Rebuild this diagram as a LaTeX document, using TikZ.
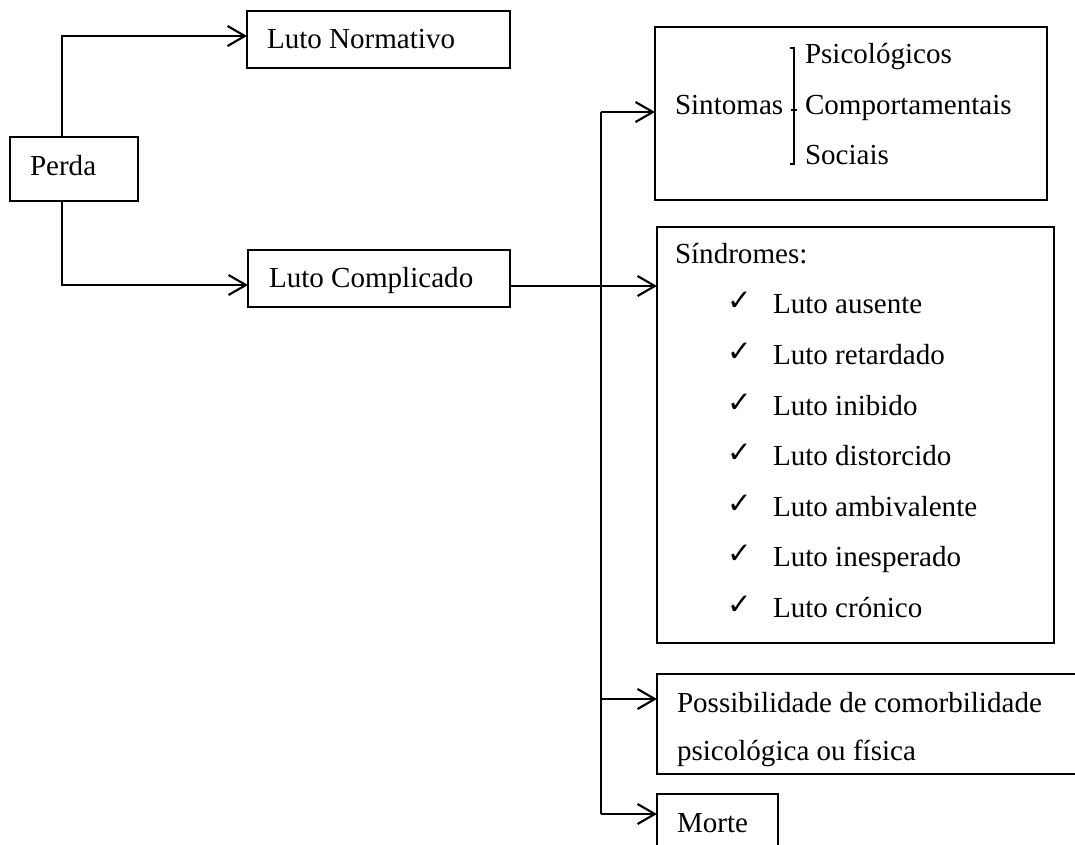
\documentclass[tikz,border=0pt]{standalone}
\usepackage{fontspec}
\setmainfont{Liberation Serif}
\newfontfamily\chkfont{DejaVu Sans}
\usetikzlibrary{arrows.meta}
\newlength\pu
\setlength\pu{0.75pt}
\tikzset{
  box/.style={draw, line width=1pt, rectangle, inner sep=0pt, outer sep=0pt},
  txt/.style={anchor=base west, inner sep=0pt, outer sep=0pt, font=\fontsize{21.8}{26}\selectfont},
  chk/.style={anchor=base west, inner sep=0pt, outer sep=0pt, font=\chkfont\fontsize{22}{26}\selectfont},
  trunk/.style={line width=1.6pt},
  conn/.style={line width=1.6pt, -{Straight Barb[length=13pt,width=15pt,line width=1.6pt]}}
}
\begin{document}
\begin{tikzpicture}[x=0.75pt, y=-0.75pt]
\useasboundingbox (0,0) rectangle (1075,844);
\clip (0,0) rectangle (1075,844);
\fill[white] (0,0) rectangle (1075,844);

% boxes
\node[box, minimum width=128\pu, minimum height=64\pu] (perda) at (74,169) {};
\node[box, minimum width=263\pu, minimum height=57\pu] (normativo) at (378.5,39.5) {};
\node[box, minimum width=262\pu, minimum height=57\pu] (complicado) at (379,278.5) {};
\node[box, minimum width=392\pu, minimum height=173\pu] (sintomas) at (851,113.5) {};
\node[box, minimum width=397\pu, minimum height=416\pu] (sindromes) at (855.5,435) {};
\node[box, minimum width=440\pu, minimum height=100\pu] (possib) at (877,724) {};
\node[box, minimum width=121\pu, minimum height=70\pu] (morte) at (717.5,829) {};

% texts
\node[txt] (tperda) at (30,175) {Perda};
\node[txt] (tnorm) at (267,48) {Luto Normativo};
\node[txt] (tcomp) at (269,287) {Luto Complicado};

\node[txt] (tsint) at (675,114) {Sintomas};
\node[txt] (tpsi) at (805,63) {Psicológicos};
\node[txt] (tcomport) at (805,114) {Comportamentais};
\node[txt] (tsoc) at (805,164) {Sociais};
\draw[line width=1pt] (790,48) -- (794,48) -- (794,164) -- (790,164);
\draw[line width=1pt] (791,110) -- (797,110);

\node[txt] (tsind) at (675,263) {Síndromes:};
\foreach \yy/\lab [count=\i] in {313/Luto ausente, 364/Luto retardado, 415/Luto inibido, 465/Luto distorcido, 516/Luto ambivalente, 566/Luto inesperado, 617/Luto crónico}{
  \node[chk] (c\i) at (727,\yy-3) {✓};
  \node[txt] (s\i) at (773,\yy) {\lab};
}

\node[txt] (tpos1) at (677,712) {Possibilidade de comorbilidade};
\node[txt] (tpos2) at (677,760) {psicológica ou física};
\node[txt] (tmorte) at (677,832) {Morte};

% connectors
\coordinate (ta) at (62,36);
\coordinate (tb) at (62,285);
\coordinate (b1) at (601,112);
\coordinate (b2) at (601,286);
\coordinate (b3) at (601,699);
\coordinate (b4) at (601,814);

\draw[conn] (perda.north -| ta) |- (normativo.west |- ta);
\draw[conn] (perda.south -| tb) |- (complicado.west |- tb);
\draw[conn] (complicado.east |- b2) -- (sindromes.west |- b2);
\draw[trunk] (b1) -- (b4);
\draw[conn] (b1) -- (sintomas.west |- b1);
\draw[conn] (b3) -- (possib.west |- b3);
\draw[conn] (b4) -- (morte.west |- b4);
\end{tikzpicture}
\end{document}
